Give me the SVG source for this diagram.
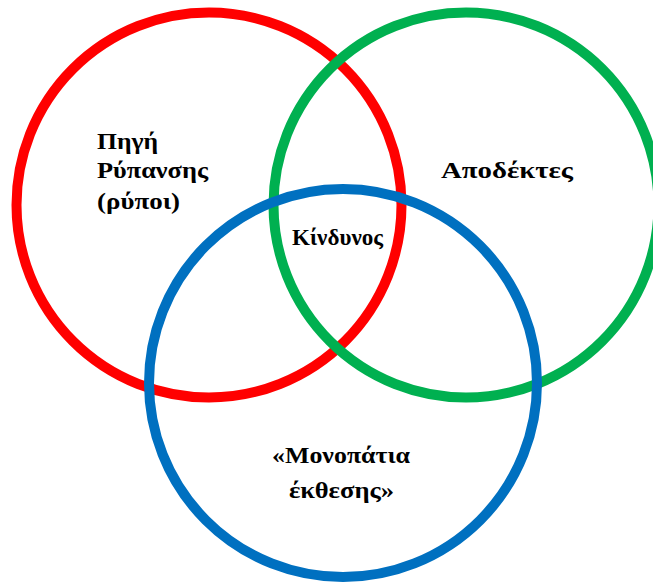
<svg xmlns="http://www.w3.org/2000/svg" width="653" height="583" viewBox="0 0 653 583">
<style>
.c{fill:none;stroke-width:10}
.t{font-family:"Liberation Serif","Times New Roman",serif;font-weight:bold;font-size:24px;fill:#000}
</style>
<rect width="653" height="583" fill="#fff"/>
<g id="red"><circle class="c" cx="209" cy="205" r="192.5" stroke="#FF0000"/></g>
<g id="green"><circle class="c" cx="466" cy="205" r="192.5" stroke="#00B050"/></g>
<g id="blue"><circle class="c" cx="343" cy="383" r="194" stroke="#0070C0"/></g>
<g id="labels">
<text class="t" x="97" y="149" textLength="61" lengthAdjust="spacingAndGlyphs">Πηγή</text>
<text class="t" x="97" y="178" textLength="111" lengthAdjust="spacingAndGlyphs">Ρύπανσης</text>
<text class="t" x="97" y="209" textLength="83" lengthAdjust="spacingAndGlyphs">(ρύποι)</text>
<text class="t" x="292" y="245" textLength="91" lengthAdjust="spacingAndGlyphs">Κίνδυνος</text>
<text class="t" x="441" y="178" textLength="132" lengthAdjust="spacingAndGlyphs">Αποδέκτες</text>
<text class="t" x="272" y="463" textLength="138" lengthAdjust="spacingAndGlyphs">«Μονοπάτια</text>
<text class="t" x="289" y="498" textLength="105" lengthAdjust="spacingAndGlyphs">έκθεσης»</text>
</g>
</svg>
